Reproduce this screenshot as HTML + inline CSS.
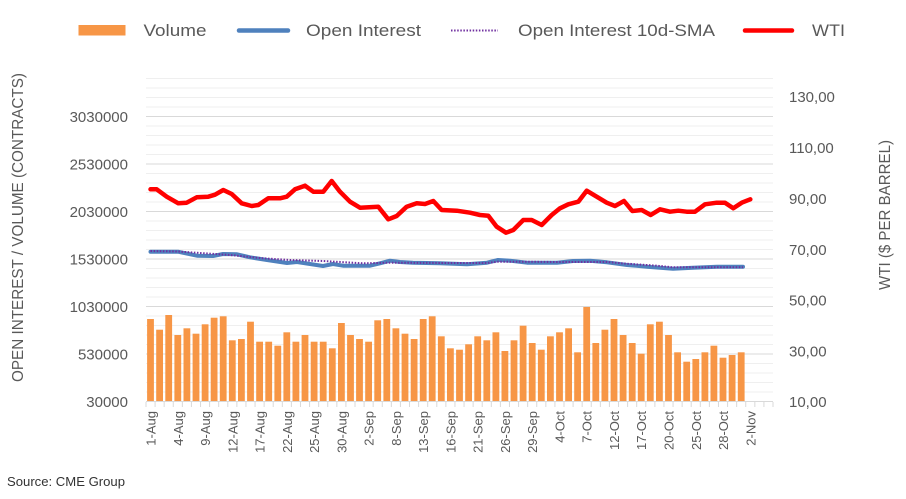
<!DOCTYPE html>
<html>
<head>
<meta charset="utf-8">
<style>
  html, body { margin: 0; padding: 0; background: #ffffff; }
  svg { display: block; }
  text { font-family: "Liberation Sans", Arial, sans-serif; }
</style>
</head>
<body>
<svg width="906" height="499" viewBox="0 0 906 499" xmlns="http://www.w3.org/2000/svg">
  <rect x="0" y="0" width="906" height="499" fill="#ffffff"/>

  <!-- Legend -->
  <rect x="78.5" y="25" width="47" height="10.5" fill="#f79646"/>
  <text x="143.5" y="36" font-size="17" fill="#595959" textLength="63" lengthAdjust="spacingAndGlyphs">Volume</text>
  <line x1="239" y1="30.5" x2="288" y2="30.5" stroke="#4f81bd" stroke-width="4.5" stroke-linecap="round"/>
  <text x="306" y="36" font-size="17" fill="#595959" textLength="115" lengthAdjust="spacingAndGlyphs">Open Interest</text>
  <line x1="451" y1="30.5" x2="498" y2="30.5" stroke="#7030a0" stroke-width="2" stroke-dasharray="1.5 1.6"/>
  <text x="518" y="36" font-size="17" fill="#595959" textLength="197" lengthAdjust="spacingAndGlyphs">Open Interest 10d-SMA</text>
  <line x1="745" y1="30.5" x2="792" y2="30.5" stroke="#ff0000" stroke-width="4.5" stroke-linecap="round"/>
  <text x="812" y="36" font-size="17" fill="#595959" textLength="33" lengthAdjust="spacingAndGlyphs">WTI</text>

  <!-- Minor gridlines -->
  <g stroke="#efefef" stroke-width="1">
    <line x1="146" x2="773" y1="392" y2="392"/>
    <line x1="146" x2="773" y1="382.5" y2="382.5"/>
    <line x1="146" x2="773" y1="373" y2="373"/>
    <line x1="146" x2="773" y1="363.5" y2="363.5"/>
    <line x1="146" x2="773" y1="344.5" y2="344.5"/>
    <line x1="146" x2="773" y1="335" y2="335"/>
    <line x1="146" x2="773" y1="325.5" y2="325.5"/>
    <line x1="146" x2="773" y1="316" y2="316"/>
    <line x1="146" x2="773" y1="297" y2="297"/>
    <line x1="146" x2="773" y1="287.5" y2="287.5"/>
    <line x1="146" x2="773" y1="278" y2="278"/>
    <line x1="146" x2="773" y1="268.5" y2="268.5"/>
    <line x1="146" x2="773" y1="249.5" y2="249.5"/>
    <line x1="146" x2="773" y1="240" y2="240"/>
    <line x1="146" x2="773" y1="230.5" y2="230.5"/>
    <line x1="146" x2="773" y1="221" y2="221"/>
    <line x1="146" x2="773" y1="202" y2="202"/>
    <line x1="146" x2="773" y1="192.5" y2="192.5"/>
    <line x1="146" x2="773" y1="183" y2="183"/>
    <line x1="146" x2="773" y1="173.5" y2="173.5"/>
    <line x1="146" x2="773" y1="154.5" y2="154.5"/>
    <line x1="146" x2="773" y1="145" y2="145"/>
    <line x1="146" x2="773" y1="135.5" y2="135.5"/>
    <line x1="146" x2="773" y1="126" y2="126"/>
    <line x1="146" x2="773" y1="107" y2="107"/>
    <line x1="146" x2="773" y1="97.5" y2="97.5"/>
    <line x1="146" x2="773" y1="88" y2="88"/>
    <line x1="146" x2="773" y1="78.5" y2="78.5"/>
  </g>
  <!-- Major gridlines -->
  <g stroke="#d9d9d9" stroke-width="1">
    <line x1="146" x2="773" y1="354" y2="354"/>
    <line x1="146" x2="773" y1="306.5" y2="306.5"/>
    <line x1="146" x2="773" y1="259" y2="259"/>
    <line x1="146" x2="773" y1="211.5" y2="211.5"/>
    <line x1="146" x2="773" y1="164" y2="164"/>
    <line x1="146" x2="773" y1="116.5" y2="116.5"/>
  </g>

  <!-- Volume bars -->
  <g fill="#f79646">
    <rect x="147.1" y="319" width="6.8" height="82.5"/>
    <rect x="156.2" y="329.7" width="6.8" height="71.8"/>
    <rect x="165.3" y="315" width="6.8" height="86.5"/>
    <rect x="174.4" y="335" width="6.8" height="66.5"/>
    <rect x="183.5" y="328.3" width="6.8" height="73.2"/>
    <rect x="192.6" y="333.7" width="6.8" height="67.8"/>
    <rect x="201.7" y="324.3" width="6.8" height="77.2"/>
    <rect x="210.7" y="317.7" width="6.8" height="83.8"/>
    <rect x="219.8" y="316.3" width="6.8" height="85.2"/>
    <rect x="228.9" y="340.3" width="6.8" height="61.2"/>
    <rect x="238.0" y="339" width="6.8" height="62.5"/>
    <rect x="247.1" y="321.7" width="6.8" height="79.8"/>
    <rect x="256.2" y="341.7" width="6.8" height="59.8"/>
    <rect x="265.3" y="341.7" width="6.8" height="59.8"/>
    <rect x="274.4" y="345.7" width="6.8" height="55.8"/>
    <rect x="283.4" y="332.3" width="6.8" height="69.2"/>
    <rect x="292.5" y="341.7" width="6.8" height="59.8"/>
    <rect x="301.6" y="335" width="6.8" height="66.5"/>
    <rect x="310.7" y="341.7" width="6.8" height="59.8"/>
    <rect x="319.8" y="341.7" width="6.8" height="59.8"/>
    <rect x="328.9" y="348.3" width="6.8" height="53.2"/>
    <rect x="338.0" y="323" width="6.8" height="78.5"/>
    <rect x="347.1" y="335" width="6.8" height="66.5"/>
    <rect x="356.1" y="339" width="6.8" height="62.5"/>
    <rect x="365.2" y="341.7" width="6.8" height="59.8"/>
    <rect x="374.3" y="320.3" width="6.8" height="81.2"/>
    <rect x="383.4" y="319" width="6.8" height="82.5"/>
    <rect x="392.5" y="328.3" width="6.8" height="73.2"/>
    <rect x="401.6" y="333.7" width="6.8" height="67.8"/>
    <rect x="410.7" y="339" width="6.8" height="62.5"/>
    <rect x="419.8" y="319" width="6.8" height="82.5"/>
    <rect x="428.8" y="316.3" width="6.8" height="85.2"/>
    <rect x="437.9" y="336.3" width="6.8" height="65.2"/>
    <rect x="447.0" y="348.3" width="6.8" height="53.2"/>
    <rect x="456.1" y="349.7" width="6.8" height="51.8"/>
    <rect x="465.2" y="344.3" width="6.8" height="57.2"/>
    <rect x="474.3" y="336.3" width="6.8" height="65.2"/>
    <rect x="483.4" y="340.3" width="6.8" height="61.2"/>
    <rect x="492.5" y="332.3" width="6.8" height="69.2"/>
    <rect x="501.5" y="351" width="6.8" height="50.5"/>
    <rect x="510.6" y="340.3" width="6.8" height="61.2"/>
    <rect x="519.7" y="325.7" width="6.8" height="75.8"/>
    <rect x="528.8" y="343" width="6.8" height="58.5"/>
    <rect x="537.9" y="349.7" width="6.8" height="51.8"/>
    <rect x="547.0" y="336.3" width="6.8" height="65.2"/>
    <rect x="556.1" y="332.3" width="6.8" height="69.2"/>
    <rect x="565.2" y="328.3" width="6.8" height="73.2"/>
    <rect x="574.2" y="352.3" width="6.8" height="49.2"/>
    <rect x="583.3" y="307" width="6.8" height="94.5"/>
    <rect x="592.4" y="343" width="6.8" height="58.5"/>
    <rect x="601.5" y="329.7" width="6.8" height="71.8"/>
    <rect x="610.6" y="319" width="6.8" height="82.5"/>
    <rect x="619.7" y="335" width="6.8" height="66.5"/>
    <rect x="628.8" y="343" width="6.8" height="58.5"/>
    <rect x="637.8" y="353.7" width="6.8" height="47.8"/>
    <rect x="646.9" y="324.3" width="6.8" height="77.2"/>
    <rect x="656.0" y="321.7" width="6.8" height="79.8"/>
    <rect x="665.1" y="335" width="6.8" height="66.5"/>
    <rect x="674.2" y="352.3" width="6.8" height="49.2"/>
    <rect x="683.3" y="361.7" width="6.8" height="39.8"/>
    <rect x="692.4" y="359" width="6.8" height="42.5"/>
    <rect x="701.5" y="352.3" width="6.8" height="49.2"/>
    <rect x="710.5" y="345.7" width="6.8" height="55.8"/>
    <rect x="719.6" y="357.7" width="6.8" height="43.8"/>
    <rect x="728.7" y="355" width="6.8" height="46.5"/>
    <rect x="737.8" y="352.3" width="6.8" height="49.2"/>
  </g>

  <!-- X axis line and ticks -->
  <line x1="146" x2="773" y1="401.5" y2="401.5" stroke="#d9d9d9" stroke-width="1"/>
  <line x1="145.5" x2="774" y1="404.5" y2="404.5" stroke="#d9d9d9" stroke-width="5" stroke-dasharray="1 8.087"/>

  <!-- Open Interest -->
  <polyline fill="none" stroke="#4f81bd" stroke-width="4" stroke-linejoin="round" stroke-linecap="round"
    points="150.5,251.7 178,251.7 197,255.7 213,256 223,254 237,254.3 250,257.3 267,260 287,263 297,262 310,264 323,266 333,264 343,265.7 370,265.7 380,263.3 390,260.7 400,262 413,262.7 440,263.3 467,264.3 487,262.7 498,260 510,260.7 527,262.7 557,262.7 573,261 590,260.7 607,262.3 627,265 647,266.7 673,268.7 693,267.7 717,266.7 743,266.7"/>
  <!-- Open Interest 10d-SMA -->
  <polyline fill="none" stroke="#7030a0" stroke-width="2" stroke-dasharray="1.5 1.6"
    points="150.5,251 178,251.5 200,253 230,255 263,258.3 290,260 323,261 363,263.3 390,262.7 450,263 487,263 498,261.7 527,261.7 557,262 607,262 627,263.7 657,265.7 673,267.3 743,267.3"/>

  <!-- WTI -->
  <polyline fill="none" stroke="#ff0000" stroke-width="4.5" stroke-linejoin="round" stroke-linecap="round"
    points="150.5,189.3 156.7,189.3 166.7,196.7 178.3,203.3 186.7,202.7 196.7,197.3 208.3,196.7 215,194.7 223.3,190 231.7,194 241.7,203.3 251.7,206 258.3,205 268.3,198.3 280,198.3 286.7,196.7 295,189.3 305,185.7 313.3,191.7 323.3,191.7 331.7,181 340,191.7 350,201.7 360,207.7 378.3,206.7 388.3,219.3 396.7,216 406.7,206.7 416.7,203.3 425,204 433.3,201 441.7,210 456.7,210.7 470,212.7 480,215 488.3,215.7 496.7,226.7 506,232.7 513.3,230 523.3,220 531.7,220 541.7,225 551.7,215 560,208.3 568.3,204.3 578.3,201.7 586.7,190.7 596.7,196.7 606.7,202.7 615,206 624,201 632.3,211 641.7,210 650.7,215 660,209.3 670,211.7 678.3,210.7 686.7,211.7 695,211.7 705,204.3 716.7,202.7 725,202.7 733.3,208.3 741.7,202.7 750.3,199.3"/>

  <!-- Left axis labels -->
  <g font-size="15" fill="#595959" text-anchor="end">
    <text x="128" y="122">3030000</text>
    <text x="128" y="169.5">2530000</text>
    <text x="128" y="217">2030000</text>
    <text x="128" y="264.5">1530000</text>
    <text x="128" y="312">1030000</text>
    <text x="128" y="359.5">530000</text>
    <text x="128" y="407">30000</text>
  </g>

  <!-- Right axis labels -->
  <g font-size="15" fill="#595959" text-anchor="start">
    <text x="789" y="102">130,00</text>
    <text x="789" y="153">110,00</text>
    <text x="789" y="204">90,00</text>
    <text x="789" y="255">70,00</text>
    <text x="789" y="305.5">50,00</text>
    <text x="789" y="356.5">30,00</text>
    <text x="789" y="407">10,00</text>
  </g>

  <!-- Axis titles -->
  <text transform="translate(23,227.5) rotate(-90)" font-size="15.5" fill="#595959" text-anchor="middle" textLength="309" lengthAdjust="spacingAndGlyphs">OPEN INTEREST / VOLUME (CONTRACTS)</text>
  <text transform="translate(890,215) rotate(-90)" font-size="15.5" fill="#595959" text-anchor="middle" textLength="150" lengthAdjust="spacingAndGlyphs">WTI ($ PER BARREL)</text>

  <!-- X axis labels -->
  <g font-size="13" fill="#595959" text-anchor="end">
    <text transform="translate(155.5,411) rotate(-90)">1-Aug</text>
    <text transform="translate(182.8,411) rotate(-90)">4-Aug</text>
    <text transform="translate(210.1,411) rotate(-90)">9-Aug</text>
    <text transform="translate(237.3,411) rotate(-90)">12-Aug</text>
    <text transform="translate(264.6,411) rotate(-90)">17-Aug</text>
    <text transform="translate(291.8,411) rotate(-90)">22-Aug</text>
    <text transform="translate(319.1,411) rotate(-90)">25-Aug</text>
    <text transform="translate(346.4,411) rotate(-90)">30-Aug</text>
    <text transform="translate(373.6,411) rotate(-90)">2-Sep</text>
    <text transform="translate(400.9,411) rotate(-90)">8-Sep</text>
    <text transform="translate(428.2,411) rotate(-90)">13-Sep</text>
    <text transform="translate(455.4,411) rotate(-90)">16-Sep</text>
    <text transform="translate(482.7,411) rotate(-90)">21-Sep</text>
    <text transform="translate(509.9,411) rotate(-90)">26-Sep</text>
    <text transform="translate(537.2,411) rotate(-90)">29-Sep</text>
    <text transform="translate(564.5,411) rotate(-90)">4-Oct</text>
    <text transform="translate(591.7,411) rotate(-90)">7-Oct</text>
    <text transform="translate(619.0,411) rotate(-90)">12-Oct</text>
    <text transform="translate(646.2,411) rotate(-90)">17-Oct</text>
    <text transform="translate(673.5,411) rotate(-90)">20-Oct</text>
    <text transform="translate(700.8,411) rotate(-90)">25-Oct</text>
    <text transform="translate(728.0,411) rotate(-90)">28-Oct</text>
    <text transform="translate(755.3,411) rotate(-90)">2-Nov</text>
  </g>

  <!-- Source -->
  <text x="7" y="486" font-size="13" fill="#333333" textLength="118" lengthAdjust="spacingAndGlyphs">Source: CME Group</text>
</svg>
</body>
</html>
